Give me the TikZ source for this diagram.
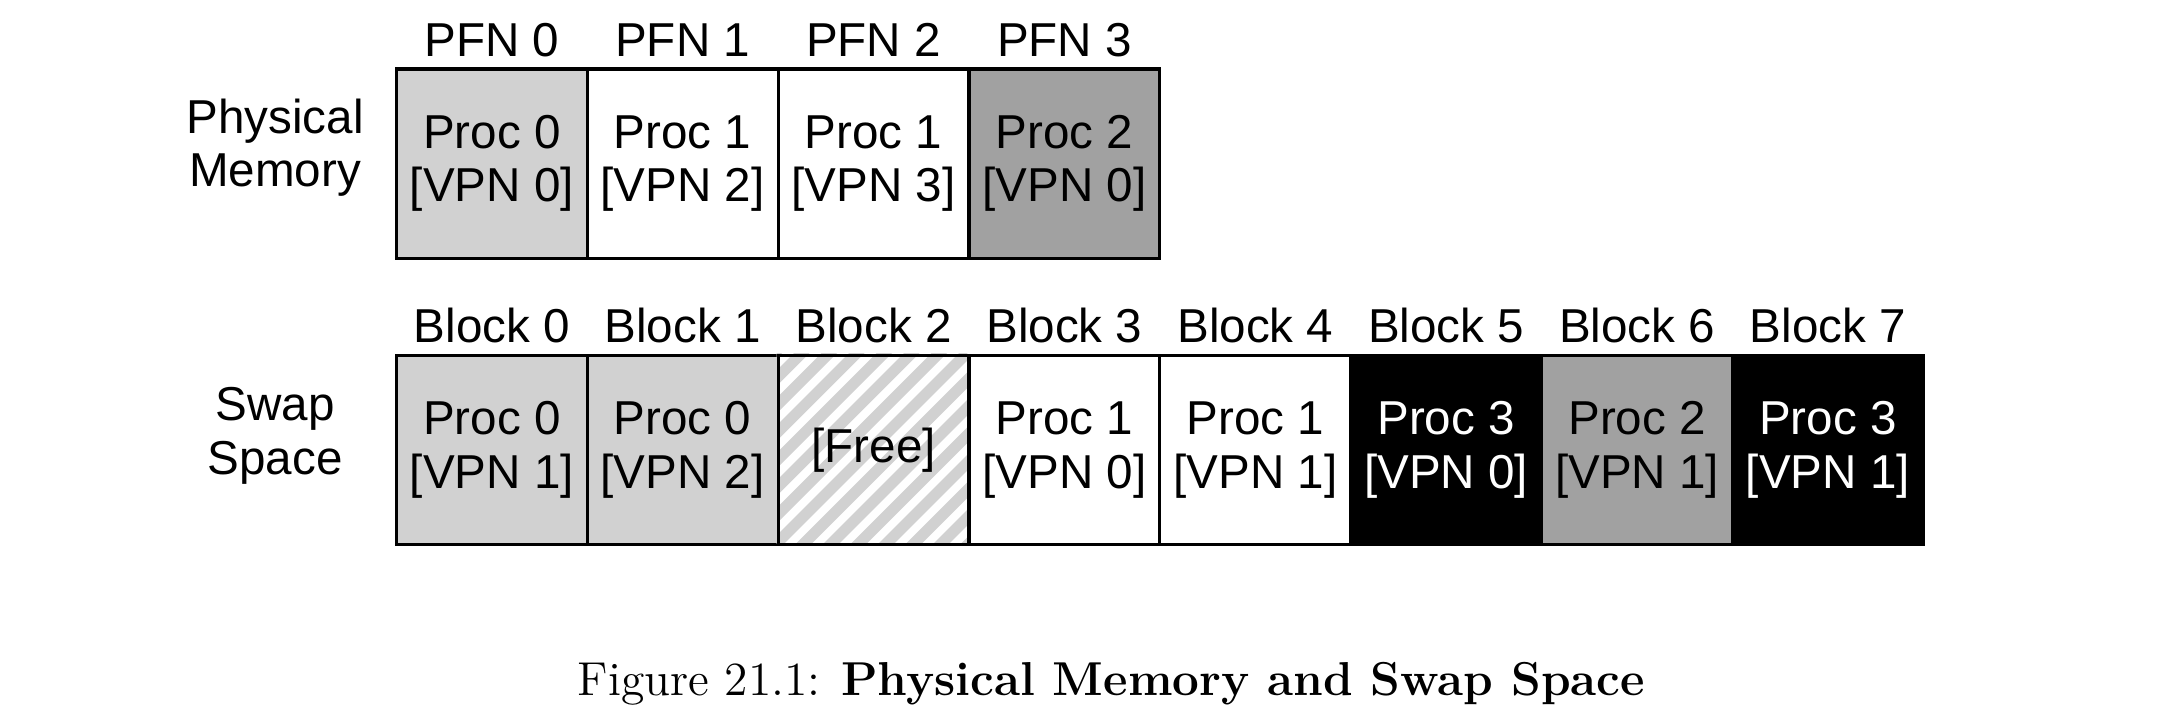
\documentclass[tikz,border=0pt]{standalone}
\usepackage{fontspec}
\setmainfont{Liberation Sans}
\newfontfamily\capfont{Latin Modern Roman}
\newcommand\cc[2]{\raisebox{0.13cm}{\begin{tabular}{@{}c@{}}#1\\[-1pt]#2\end{tabular}}}
\begin{document}
\begin{tikzpicture}[x=0.01403cm,y=-0.01403cm,
  cell/.style={draw=black,line width=0.9pt,minimum width=138.75*0.01403cm,minimum height=138*0.01403cm,inner sep=0pt,align=center,font=\fontsize{13.8}{16.5}\selectfont,anchor=north west},
  lab/.style={font=\fontsize{13.8}{16.5}\selectfont,align=center,inner sep=0pt},
  lt/.style={fill=black!18},
  dk/.style={fill=black!37},
  bk/.style={fill=black,text=white}]
\useasboundingbox (0,0) rectangle (1568,527);
\node[lab] (pm) at (200,108) {\cc{Physical}{Memory}};
\node[lab] (ss) at (200,317) {\cc{Swap}{Space}};
% physical
\node[cell,lt] (p0) at (287,49) {\cc{Proc 0}{[VPN 0]}};
\node[cell] (p1) at (425.75,49) {\cc{Proc 1}{[VPN 2]}};
\node[cell] (p2) at (564.5,49) {\cc{Proc 1}{[VPN 3]}};
\node[cell,dk] (p3) at (703.25,49) {\cc{Proc 2}{[VPN 0]}};
\foreach \i in {0,...,3}{\node[lab,anchor=south] (pl\i) at ([yshift=0.1cm]p\i.north) {PFN \i};}
% swap
\node[cell,lt] (b0) at (287,257) {\cc{Proc 0}{[VPN 1]}};
\node[cell,lt] (b1) at (425.75,257) {\cc{Proc 0}{[VPN 2]}};
\begin{scope}
\clip (564.5,257) rectangle +(138.75,138);
\fill[white] (564.5,257) rectangle +(138.75,138);
\foreach \k in {0,...,16}{\draw[black!18,line width=3.2pt] (564.5+\k*20-170,395+10) -- ++(170,-170);}
\end{scope}
\node[cell] (b2) at (564.5,257) {[Free]};
\node[cell] (b3) at (703.25,257) {\cc{Proc 1}{[VPN 0]}};
\node[cell] (b4) at (842,257) {\cc{Proc 1}{[VPN 1]}};
\node[cell,bk] (b5) at (980.75,257) {\cc{Proc 3}{[VPN 0]}};
\node[cell,dk] (b6) at (1119.5,257) {\cc{Proc 2}{[VPN 1]}};
\node[cell,bk] (b7) at (1258.25,257) {\cc{Proc 3}{[VPN 1]}};
\foreach \i in {0,...,7}{\node[lab,anchor=south] (bl\i) at ([yshift=0.1cm]b\i.north) {Block \i};}
\node[font=\capfont\fontsize{13.8}{16}\selectfont,inner sep=0pt] (cap) at (808,497) {Figure 21.1: \textbf{Physical Memory and Swap Space}};
\end{tikzpicture}
\end{document}
